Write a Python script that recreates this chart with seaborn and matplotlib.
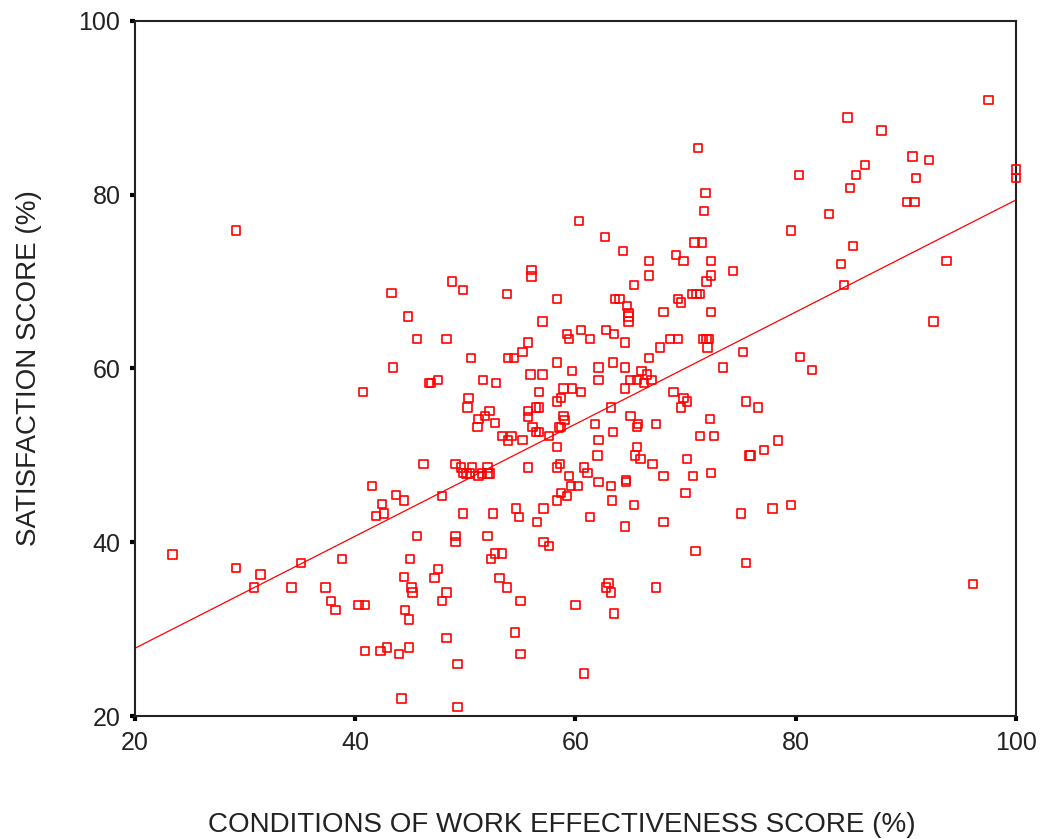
import numpy as np
import pandas as pd
import matplotlib
matplotlib.use("Agg")
import matplotlib.pyplot as plt
import seaborn as sns

# work effectiveness score (%) vs satisfaction score (%)
work_score = [
    29.2, 23.4, 29.2, 30.8, 31.4, 34.2, 35.1, 37.3, 37.8, 38.2, 38.8, 40.3, 40.9,
    43.3, 44.8, 45.6, 43.4, 40.7, 46.7, 46.2, 41.5, 42.4, 42.6, 41.9, 43.7, 44.4,
    45.6, 45.0, 44.4, 45.1, 45.2, 44.5, 44.9, 40.9, 42.3, 42.9, 44.0, 44.9, 44.2,
    71.8, 71.7, 60.3, 62.7, 64.3, 70.8, 71.5, 69.1, 69.8, 72.3, 66.7, 66.7, 72.3,
    71.9, 74.3, 56.0, 56.0, 48.8, 49.8, 53.8, 58.3, 65.3, 63.6, 64.0, 64.7, 64.8,
    64.8, 64.8, 68.0, 69.3, 69.6, 70.6, 71.0, 71.3, 72.3, 48.3, 57.0, 59.2, 59.4,
    60.5, 61.3, 62.8, 63.5, 64.5, 67.7, 68.6, 69.3, 71.6, 72.1, 71.9, 72.0, 75.2,
    73.4, 55.7, 55.2, 53.9, 54.4, 50.5, 58.3, 66.7, 63.4, 62.1, 64.5, 59.7, 55.9,
    57.0, 66.0, 66.5, 62.1, 65.0, 65.6, 66.2, 66.9, 64.5, 46.9, 47.5, 51.6, 52.8,
    56.7, 58.9, 59.7, 60.5, 50.3, 50.2, 58.3, 58.7, 63.2, 68.9, 69.8, 70.1, 69.6,
    75.5, 52.2, 51.8, 51.2, 51.1, 52.7, 55.7, 55.7, 56.4, 56.7, 56.1, 56.4, 56.7,
    58.9, 59.0, 58.7, 58.5, 57.6, 53.3, 53.9, 54.2, 55.2, 61.8, 63.4, 62.1, 65.0,
    65.7, 65.6, 67.3, 72.2, 71.3, 72.6, 58.3, 65.6, 62.0, 65.4, 65.9, 67.0, 70.1,
    75.8, 49.1, 49.6, 49.8, 50.1, 50.6, 50.4, 51.2, 51.5, 52.0, 52.0, 52.2, 55.7,
    58.3, 58.6, 60.8, 61.1, 59.4, 64.6, 68.0, 70.7, 72.3, 59.6, 60.2, 62.1, 63.2,
    64.6, 58.7, 59.2, 58.3, 63.3, 65.3, 70.0, 47.9, 49.8, 52.5, 54.6, 54.9, 57.1,
    56.5, 61.3, 64.5, 68.0, 75.0, 49.1, 49.1, 52.0, 57.1, 57.6, 70.9, 52.3, 52.7,
    53.3, 75.5, 47.5, 47.2, 53.1, 53.8, 48.3, 47.9, 55.0, 63.0, 62.8, 63.2, 67.3,
    60.0, 63.5, 48.3, 54.5, 55.0, 49.3, 60.8, 49.3, 97.5, 84.7, 87.8, 71.1, 90.6,
    92.1, 86.3, 80.3, 85.5, 90.9, 84.9, 100.0, 100.0, 90.1, 90.8, 83.0, 79.6, 85.2,
    84.1, 93.7, 84.4, 92.5, 80.4, 81.5, 76.6, 78.4, 77.1, 75.9, 77.9, 79.6, 96.1,
]
satisfaction = [
    75.9, 38.6, 37.0, 34.8, 36.3, 34.8, 37.6, 34.8, 33.2, 32.2, 38.1, 32.8, 32.8,
    68.7, 66.0, 63.4, 60.1, 57.3, 58.3, 49.0, 46.5, 44.4, 43.3, 43.0, 45.4, 44.8,
    40.7, 38.1, 36.0, 34.8, 34.2, 32.2, 31.1, 27.5, 27.5, 27.9, 27.1, 27.9, 22.0,
    80.2, 78.1, 77.0, 75.1, 73.5, 74.5, 74.5, 73.1, 72.4, 72.4, 72.4, 70.7, 70.7,
    70.0, 71.2, 71.3, 70.6, 70.0, 69.0, 68.6, 68.0, 69.6, 68.0, 68.0, 67.2, 66.4,
    66.0, 65.4, 66.5, 68.0, 67.6, 68.6, 68.6, 68.6, 66.5, 63.4, 65.4, 64.0, 63.4,
    64.4, 63.4, 64.4, 64.0, 63.0, 62.4, 63.4, 63.4, 63.4, 63.4, 63.4, 62.4, 61.9,
    60.1, 63.0, 61.9, 61.2, 61.2, 61.2, 60.7, 61.2, 60.7, 60.1, 60.1, 59.7, 59.3,
    59.3, 59.7, 59.3, 58.7, 58.7, 58.7, 58.3, 58.7, 57.7, 58.3, 58.7, 58.7, 58.3,
    57.3, 57.7, 57.7, 57.3, 56.6, 55.5, 56.2, 56.6, 55.5, 57.3, 56.6, 56.2, 55.5,
    56.2, 55.1, 54.5, 54.2, 53.3, 53.7, 55.1, 54.4, 55.5, 55.5, 53.3, 52.7, 52.7,
    54.5, 54.1, 53.3, 53.2, 52.2, 52.2, 51.7, 52.2, 51.8, 53.6, 52.7, 51.8, 54.5,
    53.6, 53.3, 53.6, 54.2, 52.2, 52.2, 51.0, 51.0, 50.0, 50.0, 49.6, 49.0, 49.6,
    50.0, 49.0, 48.6, 48.0, 47.9, 48.6, 47.9, 47.6, 47.9, 48.6, 47.9, 47.9, 48.6,
    48.6, 49.0, 48.6, 48.0, 47.6, 47.2, 47.6, 47.6, 48.0, 46.5, 46.5, 46.9, 46.5,
    46.9, 45.7, 45.3, 44.8, 44.8, 44.3, 45.7, 45.3, 43.3, 43.3, 43.9, 42.9, 43.9,
    42.3, 42.9, 41.8, 42.3, 43.3, 40.7, 40.0, 40.7, 40.0, 39.6, 39.0, 38.1, 38.7,
    38.7, 37.6, 36.9, 35.9, 35.9, 34.8, 34.2, 33.2, 33.2, 35.3, 34.8, 34.2, 34.8,
    32.8, 31.8, 29.0, 29.6, 27.1, 26.0, 24.9, 21.0, 90.9, 88.9, 87.4, 85.4, 84.4,
    84.0, 83.4, 82.3, 82.3, 81.9, 80.8, 82.9, 81.9, 79.2, 79.2, 77.8, 75.9, 74.1,
    72.0, 72.4, 69.6, 65.4, 61.3, 59.8, 55.5, 51.7, 50.6, 50.0, 43.9, 44.3, 35.2,
]

# fitted line as drawn on the chart
fit_x = [20, 100]
fit_y = [27.8, 79.4]

x_ticks = [20, 40, 60, 80, 100]
y_ticks = [20, 40, 60, 80, 100]

df = pd.DataFrame({"work": work_score, "sat": satisfaction})
fit = pd.DataFrame({"x": fit_x, "y": fit_y})

sns.set_theme(style="white")
plt.rcParams["font.family"] = ["Liberation Sans", "DejaVu Sans"]

fig = plt.figure(figsize=(10.4, 8.39), dpi=100)
ax = fig.add_axes([0.1298, 0.1466, 0.8471, 0.8284])

sns.lineplot(data=fit, x="x", y="y", color="#ff0000", linewidth=0.9, ax=ax)
sns.scatterplot(data=df, x="work", y="sat", marker="s", s=36,
                facecolors="none", edgecolor="#ff0000", linewidth=1.2,
                clip_on=False, zorder=3, ax=ax)

ax.set_xlim(20, 100)
ax.set_ylim(20, 100)
ax.set_xticks(x_ticks)
ax.set_yticks(y_ticks)
ax.tick_params(axis="both", direction="out", length=3.5, width=3,
               color="black", labelsize=18, labelcolor="#222222", pad=7,
               bottom=True, left=True)

for sp in ax.spines.values():
    sp.set_visible(True)
    sp.set_color("#222222")
    sp.set_linewidth(1.5)

ax.set_xlabel("CONDITIONS OF WORK EFFECTIVENESS SCORE (%)", fontsize=20,
              color="#222222")
ax.set_ylabel("SATISFACTION SCORE (%)", fontsize=20, color="#222222")
ax.xaxis.set_label_coords(0.484, -0.138)
ax.yaxis.labelpad = 26

fig.savefig("out.png", dpi=100, facecolor="white")
